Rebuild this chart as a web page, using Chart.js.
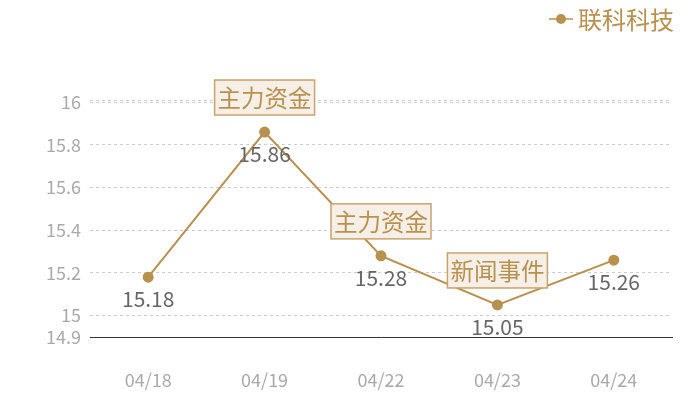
<!DOCTYPE html>
<html>
<head>
<meta charset="utf-8">
<script src="https://cdn.jsdelivr.net/npm/chart.js@4/dist/chart.umd.min.js"></script>
<style>
  html, body { margin: 0; padding: 0; background: #fff; }
  #wrap { width: 700px; height: 400px; }
</style>
</head>
<body>
<div id="wrap"><canvas id="chart"></canvas></div>
<script>
// chart data
const dates = ['04/18', '04/19', '04/22', '04/23', '04/24'];
const prices = [15.18, 15.86, 15.28, 15.05, 15.26];
const yTicks = [14.9, 15, 15.2, 15.4, 15.6, 15.8, 16];
const seriesName = '联科科技';
// event markers: [index, text]
const events = [[1, '主力资金'], [2, '主力资金'], [3, '新闻事件']];

const gold = '#b8914f';
const font = '"Noto Sans CJK SC", "Noto Sans", sans-serif';

// value labels under each point + event boxes above
const labelsPlugin = {
  id: 'labels',
  afterDatasetsDraw(chart) {
    const { ctx } = chart;
    const meta = chart.getDatasetMeta(0);
    ctx.save();
    ctx.font = `21px ${font}`;
    ctx.fillStyle = '#666';
    ctx.textAlign = 'center';
    ctx.textBaseline = 'middle';
    meta.data.forEach((pt, i) => {
      ctx.fillText(prices[i].toFixed(2), pt.x, pt.y + 22);
    });
    events.forEach(([i, text]) => {
      const pt = meta.data[i];
      const w = 100;
      const h = 35;
      const x = pt.x - w / 2;
      const y = pt.y - 17 - h;
      ctx.fillStyle = '#f5efe7';
      ctx.fillRect(x, y, w, h);
      ctx.strokeStyle = '#c9a36b';
      ctx.lineWidth = 1.5;
      ctx.strokeRect(x, y, w, h);
      ctx.fillStyle = gold;
      ctx.font = `23.5px ${font}`;
      ctx.fillText(text, pt.x, y + h / 2 + 1);
    });
    ctx.restore();
  },
  afterDraw(chart) {
    // legend at top right
    const { ctx } = chart;
    ctx.save();
    ctx.strokeStyle = gold;
    ctx.lineWidth = 1.5;
    ctx.beginPath();
    ctx.moveTo(549, 19);
    ctx.lineTo(573, 19);
    ctx.stroke();
    ctx.fillStyle = gold;
    ctx.beginPath();
    ctx.arc(561, 19, 5, 0, Math.PI * 2);
    ctx.fill();
    ctx.font = `24px ${font}`;
    ctx.textBaseline = 'middle';
    ctx.fillText(seriesName, 578, 20);
    ctx.restore();
  },
};

new Chart(document.getElementById('chart'), {
  type: 'line',
  data: {
    labels: dates,
    datasets: [{
      label: seriesName,
      data: prices,
      borderColor: gold,
      backgroundColor: gold,
      borderWidth: 2,
      pointRadius: 4.5,
      pointHoverRadius: 4.5,
      tension: 0,
    }],
  },
  options: {
    responsive: true,
    maintainAspectRatio: false,
    animation: false,
    layout: { padding: { top: 100, right: 28, left: 0, bottom: 0 } },
    plugins: {
      legend: { display: false },
      tooltip: { enabled: false },
    },
    scales: {
      x: {
        offset: true,
        grid: { display: false },
        border: { display: true, color: '#333', width: 1 },
        ticks: { color: '#aaa', font: { size: 18, family: font }, padding: 24 },
        afterFit: (scale) => { scale.height = 63; },
      },
      y: {
        min: 14.9,
        max: 16.01,
        afterBuildTicks: (scale) => {
          scale.ticks = yTicks.map((v) => ({ value: v })).concat([{ value: 16.01 }]);
        },
        grid: {
          color: (c) => (c.tick && c.tick.value === 14.9 ? 'rgba(0,0,0,0)' : '#ccc'),
          drawTicks: false,
        },
        border: { display: false, dash: [3, 3] },
        ticks: {
          color: '#aaa',
          font: { size: 18, family: font },
          padding: 9,
          callback: (v) => (yTicks.includes(v) ? String(v) : ''),
        },
        afterFit: (scale) => { scale.width = 90; },
      },
    },
  },
  plugins: [labelsPlugin],
});
</script>
</body>
</html>
